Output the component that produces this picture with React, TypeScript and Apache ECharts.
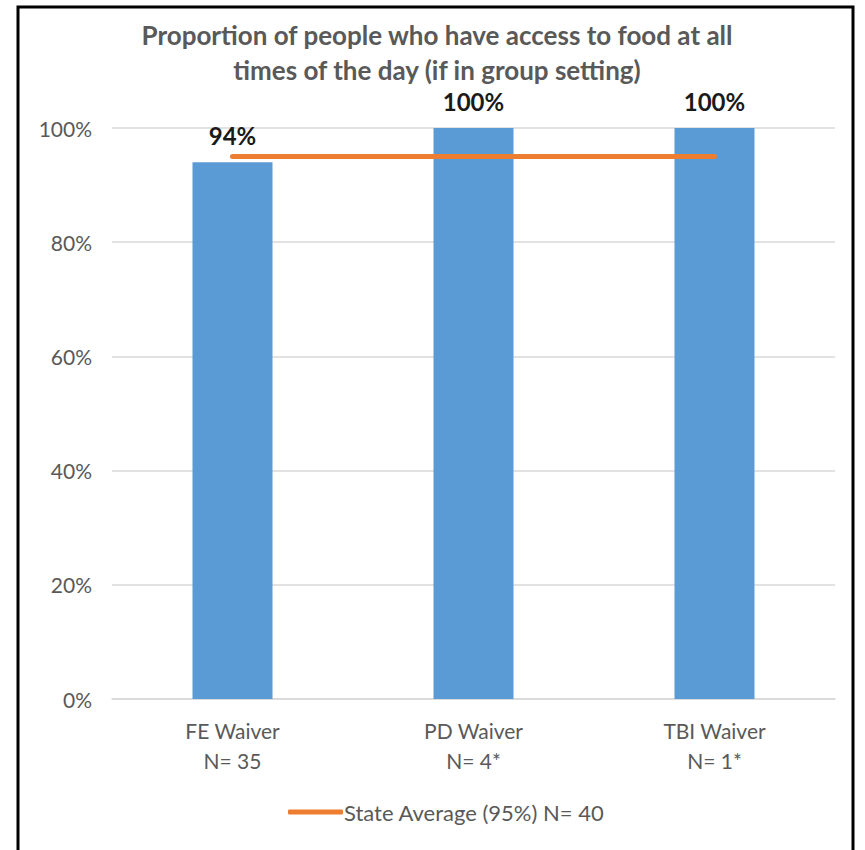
import React, { useEffect, useRef } from "react";
import * as echarts from "echarts";

const titleText = "Proportion of people who have access to food at all\ntimes of the day (if in group setting)";
const categories = ["FE Waiver\nN= 35", "PD Waiver\nN= 4*", "TBI Waiver\nN= 1*"];
const barValues = [94, 100, 100];
const stateAverageName = "State Average (95%) N= 40";
const stateAverage = [95, 95, 95];
const yTicks = [0, 20, 40, 60, 80, 100];

const FONT = "Lato, 'Open Sans', sans-serif";

export default function App() {
  const ref = useRef<HTMLDivElement>(null);
  useEffect(() => {
    if (!ref.current) return;
    const chart = echarts.init(ref.current, null, { renderer: "svg" });
    chart.setOption({
      animation: false,
      backgroundColor: "#ffffff",
      textStyle: { fontFamily: FONT },
      title: {
        text: titleText,
        left: 432,
        textAlign: "center",
        top: 12,
        textStyle: { fontFamily: FONT, fontSize: 26, fontWeight: "bold", color: "#595959", lineHeight: 35 },
      },
      graphic: [
        {
          type: "rect",
          shape: { x: 18, y: 7, width: 835, height: 870 },
          style: { fill: "none", stroke: "#000", lineWidth: 3 },
          silent: true,
        },
      ],
      grid: { left: 112, right: 30, top: 128, bottom: 151 },
      legend: {
        data: [{ name: stateAverageName, icon: "roundRect" }],
        bottom: 22,
        left: 283,
        itemWidth: 55,
        itemHeight: 5,
        textStyle: { fontFamily: FONT, fontSize: 22, color: "#595959", padding: [0, 0, 0, -4] },
      },
      xAxis: {
        type: "category",
        data: categories,
        axisTick: { show: false },
        axisLine: { show: true, lineStyle: { color: "#d9d9d9", width: 1.5 } },
        axisLabel: { fontFamily: FONT, fontSize: 21, color: "#595959", lineHeight: 30, margin: 16 },
      },
      yAxis: {
        type: "value",
        min: 0,
        max: 100,
        interval: 20,
        axisLine: { show: false },
        axisTick: { show: false },
        splitLine: { lineStyle: { color: "#d9d9d9", width: 1.5 } },
        axisLabel: {
          fontFamily: FONT,
          fontSize: 21,
          color: "#595959",
          margin: 20,
          formatter: (v: number) => (yTicks.includes(v) ? v + "%" : ""),
        },
      },
      series: [
        {
          type: "bar",
          data: barValues,
          barWidth: 80,
          itemStyle: { color: "#5B9BD5" },
          label: {
            show: true,
            position: "top",
            distance: 15,
            formatter: "{c}%",
            fontFamily: FONT,
            fontSize: 24,
            fontWeight: "bold",
            color: "#1a1a1a",
          },
        },
        {
          type: "line",
          name: stateAverageName,
          data: stateAverage,
          symbol: "none",
          lineStyle: { color: "#ED7D31", width: 5, cap: "round" },
          itemStyle: { color: "#ED7D31" },
          z: 5,
        },
      ],
    });
    return () => chart.dispose();
  }, []);
  return (
    <div
      ref={ref}
      style={{ position: "absolute", left: 0, top: 0, width: 865, height: 850 }}
    />
  );
}
